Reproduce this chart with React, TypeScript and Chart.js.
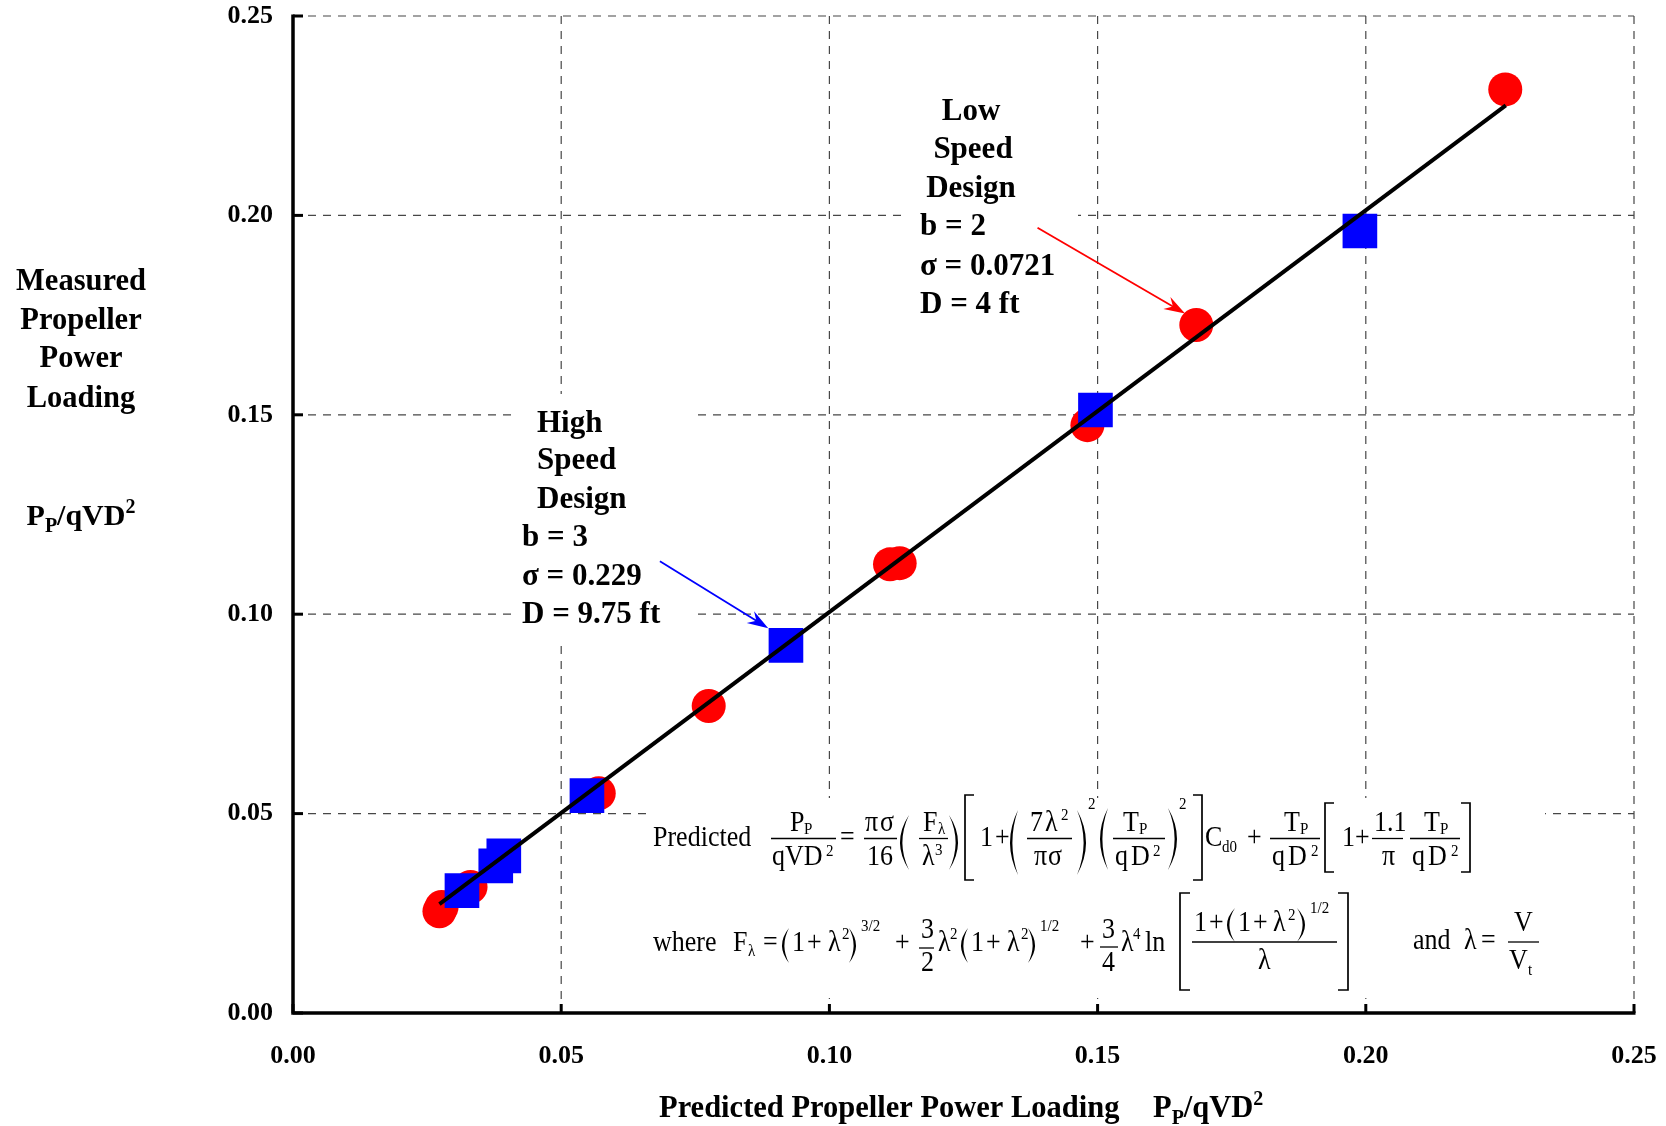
import { useEffect, useRef } from 'react';
import { Chart, registerables } from 'chart.js';

Chart.register(...registerables);

// ---------------- data ----------------
const redX = [0.0273, 0.0277, 0.0331, 0.057, 0.0775, 0.1113, 0.1131, 0.1481, 0.1684, 0.226];
const redY = [0.0255, 0.0266, 0.0316, 0.0551, 0.077, 0.1125, 0.1128, 0.1474, 0.1725, 0.2316];
const blueX = [0.0315, 0.0378, 0.0393, 0.0548, 0.0919, 0.1496, 0.1989];
const blueY = [0.0307, 0.0369, 0.0394, 0.0545, 0.0922, 0.1512, 0.1961];
const fitX = [0.0273, 0.2261];
const fitY = [0.0273, 0.2276];
const axisMin = 0;
const axisMax = 0.25;
const axisStep = 0.05;
const gridValues = [0.05, 0.1, 0.15, 0.2, 0.25];
const tickValues = [0, 0.05, 0.1, 0.15, 0.2, 0.25];

const yTitleLines = ['Measured', 'Propeller', 'Power', 'Loading'];
const xTitleText = 'Predicted Propeller Power Loading';
const lowSpeedHead = ['Low', 'Speed', 'Design'];
const lowSpeedSpec = ['b = 2', 'σ = 0.0721', 'D = 4 ft'];
const highSpeedHead = ['High', 'Speed', 'Design'];
const highSpeedSpec = ['b = 3', 'σ = 0.229', 'D = 9.75 ft'];
// arrow endpoints in data units [x0, y0, x1, y1]
const blueArrow = [0.0684, 0.1133, 0.0886, 0.0965];
const redArrow = [0.1388, 0.1969, 0.1663, 0.1754];

const SERIF = '"Liberation Serif", "Times New Roman", serif';
const BOLD = (s: number) => `bold ${s}px ${SERIF}`;

const toPts = (xs: number[], ys: number[]) => xs.map((x, i) => ({ x, y: ys[i] }));

function drawArrow(ctx: CanvasRenderingContext2D, x0: number, y0: number, x1: number, y1: number, color: string) {
  const dx = x1 - x0, dy = y1 - y0;
  const L = Math.hypot(dx, dy);
  const ux = dx / L, uy = dy / L, px = -uy, py = ux;
  ctx.save();
  ctx.strokeStyle = color;
  ctx.lineWidth = 1.8;
  ctx.beginPath();
  ctx.moveTo(x0, y0);
  ctx.lineTo(x1 - ux * 12, y1 - uy * 12);
  ctx.stroke();
  ctx.fillStyle = color;
  ctx.beginPath();
  ctx.moveTo(x1, y1);
  ctx.lineTo(x1 - ux * 21 + px * 7, y1 - uy * 21 + py * 7);
  ctx.lineTo(x1 - ux * 14, y1 - uy * 14);
  ctx.lineTo(x1 - ux * 21 - px * 7, y1 - uy * 21 - py * 7);
  ctx.closePath();
  ctx.fill();
  ctx.restore();
}

function drawPPqVD(ctx: CanvasRenderingContext2D, x: number, y: number, size: number, center: boolean) {
  const small = Math.round(size * 0.65);
  const parts: [string, number, number][] = [
    ['P', size, 0],
    ['P', small, 7],
    ['/qVD', size, 0],
    ['2', small, -12],
  ];
  let w = 0;
  for (const [s, sz] of parts) {
    ctx.font = BOLD(sz);
    w += ctx.measureText(s).width;
  }
  let cx = center ? x - w / 2 : x;
  for (const [s, sz, dy] of parts) {
    ctx.font = BOLD(sz);
    ctx.fillText(s, cx, y + dy);
    cx += ctx.measureText(s).width;
  }
}

function drawFormula(ctx: CanvasRenderingContext2D) {
  const FS = 26;
  const SS = 15;
  const STRETCH = 1.15;
  const T = (s: string, x: number, y: number, size = FS) => {
    ctx.save();
    ctx.font = `${size}px ${SERIF}`;
    ctx.translate(x, y);
    ctx.scale(1, STRETCH);
    ctx.fillText(s, 0, 0);
    ctx.restore();
  };
  const S = (s: string, x: number, y: number) => T(s, x, y, SS);
  const bar = (x0: number, x1: number, y: number) => {
    ctx.save();
    ctx.lineWidth = 1.3;
    ctx.beginPath();
    ctx.moveTo(x0, y);
    ctx.lineTo(x1, y);
    ctx.stroke();
    ctx.restore();
  };
  const paren = (x0: number, x1: number, y0: number, y1: number, left: boolean) => {
    const mid = (y0 + y1) / 2;
    const th = 2.4;
    ctx.beginPath();
    if (left) {
      const c = 2 * x0 - x1;
      ctx.moveTo(x1, y0);
      ctx.quadraticCurveTo(c, mid, x1, y1);
      ctx.quadraticCurveTo(c + th * 2, mid, x1, y0);
    } else {
      const c = 2 * x1 - x0;
      ctx.moveTo(x0, y0);
      ctx.quadraticCurveTo(c, mid, x0, y1);
      ctx.quadraticCurveTo(c - th * 2, mid, x0, y0);
    }
    ctx.fill();
  };
  const bracket = (x0: number, x1: number, y0: number, y1: number, left: boolean) => {
    ctx.save();
    ctx.lineWidth = 1.7;
    const xv = left ? x0 : x1;
    const xe = left ? x1 : x0;
    ctx.beginPath();
    ctx.moveTo(xe, y0);
    ctx.lineTo(xv, y0);
    ctx.lineTo(xv, y1);
    ctx.lineTo(xe, y1);
    ctx.stroke();
    ctx.restore();
  };

  ctx.save();
  ctx.fillStyle = '#000';
  ctx.strokeStyle = '#000';
  ctx.textAlign = 'left';
  ctx.textBaseline = 'alphabetic';

  // ---- line 1 ----
  const L1 = 846, N1 = 831, D1 = 865, B1 = 838.5;
  T('Predicted', 653, L1);
  T('P', 790, N1); S('P', 804, N1 + 3); bar(771, 836, B1); T('qVD', 772, D1); S('2', 826, D1 - 9);
  T('=', 840, L1);
  T('π', 865, N1); T('σ', 880, N1); bar(864, 897, B1); T('16', 867, D1);
  paren(900, 909, 815, 870, true);
  T('F', 923, N1); S('λ', 938, N1 + 3); bar(919, 948, B1); T('λ', 922, D1); S('3', 935, D1 - 10);
  paren(949, 958, 815, 870, false);
  bracket(965, 974, 795, 880, true);
  T('1', 980, L1); T('+', 995, L1);
  paren(1010, 1018, 810, 875, true);
  T('7', 1030, N1); T('λ', 1045, N1); S('2', 1061, N1 - 11); bar(1027, 1072, B1); T('π', 1034, D1); T('σ', 1048, D1);
  paren(1077, 1086, 810, 875, false); S('2', 1088, 809);
  paren(1100, 1108, 808, 870, true);
  T('T', 1123, N1); S('P', 1139, N1 + 3); bar(1113, 1165, B1); T('q', 1115, D1); T('D', 1131, D1); S('2', 1153, D1 - 9);
  paren(1168, 1177, 808, 870, false); S('2', 1179, 809);
  bracket(1193, 1202, 795, 880, false);
  T('C', 1205, L1); S('d0', 1222, L1 + 6);
  T('+', 1247, L1);
  T('T', 1284, N1); S('P', 1300, N1 + 3); bar(1270, 1320, B1); T('q', 1272, D1); T('D', 1288, D1); S('2', 1311, D1 - 9);
  bracket(1325, 1334, 803, 872, true);
  T('1', 1342, L1); T('+', 1355, L1);
  T('1.1', 1374, N1); bar(1372, 1403, B1); T('π', 1382, D1);
  T('T', 1424, N1); S('P', 1440, N1 + 3); bar(1410, 1460, B1); T('q', 1412, D1); T('D', 1428, D1); S('2', 1451, D1 - 9);
  bracket(1461, 1470, 803, 872, false);

  // ---- line 2 ----
  const L2 = 951;
  T('where', 653, L2);
  T('F', 733, L2); S('λ', 748, L2 + 5);
  T('=', 763, L2);
  paren(782, 789, 928, 963, true);
  T('1', 792, L2); T('+', 807, L2); T('λ', 828, L2); S('2', 842, L2 - 12);
  paren(849, 856, 928, 963, false);
  S('3/2', 861, 931);
  T('+', 895, L2);
  T('3', 921, 938); bar(919, 934, 948); T('2', 921, 971);
  T('λ', 938, L2); S('2', 950, L2 - 12);
  paren(961, 968, 928, 963, true);
  T('1', 971, L2); T('+', 986, L2); T('λ', 1007, L2); S('2', 1021, L2 - 12);
  paren(1028, 1035, 928, 963, false);
  S('1/2', 1040, 931);
  T('+', 1080, L2);
  T('3', 1102, 938); bar(1100, 1118, 947); T('4', 1102, 971);
  T('λ', 1121, L2); S('4', 1133, L2 - 12);
  T('ln', 1145, L2);
  bracket(1180, 1190, 893, 990, true);
  T('1', 1194, 931); T('+', 1209, 931);
  paren(1227, 1235, 908, 942, true);
  T('1', 1238, 931); T('+', 1253, 931); T('λ', 1273, 931); S('2', 1288, 920);
  paren(1297, 1305, 908, 942, false);
  S('1/2', 1310, 913);
  bar(1192, 1337, 942);
  T('λ', 1258, 969);
  bracket(1338, 1348, 893, 990, false);
  T('and', 1413, 949);
  T('λ', 1464, 949); T('=', 1481, 949);
  T('V', 1514, 931); bar(1508, 1539, 942); T('V', 1509, 969); S('t', 1528, 975);
  ctx.restore();
}

const figurePlugin = {
  id: 'figure',
  beforeDatasetsDraw(chart: any) {
    const { ctx, chartArea: a } = chart;
    const x = chart.scales.x;
    const y = chart.scales.y;
    ctx.save();
    // dashed grid
    ctx.strokeStyle = '#474747';
    ctx.lineWidth = 1.2;
    ctx.setLineDash([8, 7]);
    for (const v of gridValues) {
      const px = x.getPixelForValue(v);
      ctx.beginPath();
      ctx.moveTo(px, a.top);
      ctx.lineTo(px, a.bottom);
      ctx.stroke();
      const py = y.getPixelForValue(v);
      ctx.beginPath();
      ctx.moveTo(a.left, py);
      ctx.lineTo(a.right, py);
      ctx.stroke();
    }
    ctx.setLineDash([]);
    // white label backgrounds
    ctx.fillStyle = '#ffffff';
    ctx.fillRect(514, 394, 180, 252);
    ctx.fillRect(908, 88, 170, 230);
    ctx.fillRect(651, 798, 894, 200);
    // axes
    ctx.strokeStyle = '#000';
    ctx.lineWidth = 3.5;
    ctx.beginPath();
    ctx.moveTo(a.left, a.top - 1.5);
    ctx.lineTo(a.left, a.bottom);
    ctx.lineTo(a.right + 1.5, a.bottom);
    ctx.stroke();
    ctx.lineWidth = 3;
    for (const v of tickValues) {
      const py = y.getPixelForValue(v);
      ctx.beginPath();
      ctx.moveTo(a.left, py);
      ctx.lineTo(a.left + 10, py);
      ctx.stroke();
      const px = x.getPixelForValue(v);
      ctx.beginPath();
      ctx.moveTo(px, a.bottom);
      ctx.lineTo(px, a.bottom - 9);
      ctx.stroke();
    }
    ctx.restore();
  },
  afterDatasetsDraw(chart: any) {
    const { ctx } = chart;
    const x = chart.scales.x;
    const y = chart.scales.y;
    ctx.save();
    ctx.fillStyle = '#000';
    ctx.textBaseline = 'alphabetic';

    // y-axis title
    ctx.textAlign = 'center';
    ctx.font = BOLD(30.5);
    const yBase = [290, 329, 367, 407];
    yTitleLines.forEach((s, i) => ctx.fillText(s, 81, yBase[i]));
    ctx.textAlign = 'left';
    drawPPqVD(ctx, 81, 525, 30, true);

    // x-axis title
    ctx.font = BOLD(30.5);
    ctx.fillText(xTitleText, 659, 1117);
    drawPPqVD(ctx, 1153, 1117, 30.5, false);

    // Low speed annotation
    ctx.font = BOLD(31);
    ctx.textAlign = 'center';
    const lowHeadBase = [120, 158, 197];
    const lowHeadX = [971, 973, 971];
    lowSpeedHead.forEach((s, i) => ctx.fillText(s, lowHeadX[i], lowHeadBase[i]));
    ctx.textAlign = 'left';
    const lowSpecBase = [235, 275, 313];
    lowSpeedSpec.forEach((s, i) => ctx.fillText(s, 920, lowSpecBase[i]));

    // High speed annotation
    const highHeadBase = [432, 469, 508];
    highSpeedHead.forEach((s, i) => ctx.fillText(s, 537, highHeadBase[i]));
    const highSpecBase = [546, 585, 623];
    highSpeedSpec.forEach((s, i) => ctx.fillText(s, 522, highSpecBase[i]));

    // arrows
    drawArrow(ctx, x.getPixelForValue(blueArrow[0]), y.getPixelForValue(blueArrow[1]),
      x.getPixelForValue(blueArrow[2]), y.getPixelForValue(blueArrow[3]), '#0000ff');
    drawArrow(ctx, x.getPixelForValue(redArrow[0]), y.getPixelForValue(redArrow[1]),
      x.getPixelForValue(redArrow[2]), y.getPixelForValue(redArrow[3]), '#ff0000');

    drawFormula(ctx);
    ctx.restore();
  },
};

const zeroPad = (s: any) => {
  s.paddingTop = 0;
  s.paddingBottom = 0;
  s.paddingLeft = 0;
  s.paddingRight = 0;
};

export default function App() {
  const ref = useRef<HTMLCanvasElement>(null);
  useEffect(() => {
    const tickFont = { family: SERIF, weight: 'bold' as const, size: 26 };
    const chart = new Chart(ref.current!, {
      type: 'scatter',
      data: {
        datasets: [
          {
            type: 'line',
            label: 'fit',
            data: toPts(fitX, fitY),
            borderColor: '#000',
            borderWidth: 4,
            pointRadius: 0,
            showLine: true,
            fill: false,
            order: 0,
          } as any,
          {
            label: 'High Speed Design',
            data: toPts(blueX, blueY),
            pointStyle: 'rect',
            pointRadius: 24.5,
            backgroundColor: '#0000ff',
            borderWidth: 0,
            order: 1,
          },
          {
            label: 'Low Speed Design',
            data: toPts(redX, redY),
            pointStyle: 'circle',
            pointRadius: 17,
            backgroundColor: '#ff0000',
            borderWidth: 0,
            order: 2,
          },
        ],
      },
      options: {
        responsive: false,
        animation: false,
        events: [],
        layout: { autoPadding: false, padding: { top: 16, right: 32, left: 0, bottom: 0 } },
        plugins: { legend: { display: false }, tooltip: { enabled: false } },
        scales: {
          x: {
            type: 'linear',
            min: axisMin,
            max: axisMax,
            grid: { display: false, drawTicks: false, tickLength: 0 },
            border: { display: false },
            ticks: {
              stepSize: axisStep,
              autoSkip: false,
              maxRotation: 0,
              padding: 28,
              color: '#000',
              font: tickFont,
              callback: (v: any) => Number(v).toFixed(2),
            },
            afterFit: (s: any) => { s.height = 113; zeroPad(s); },
          },
          y: {
            type: 'linear',
            min: axisMin,
            max: axisMax,
            grid: { display: false, drawTicks: false, tickLength: 0 },
            border: { display: false },
            ticks: {
              stepSize: axisStep,
              autoSkip: false,
              padding: 20,
              color: '#000',
              font: tickFont,
              callback: (v: any) => Number(v).toFixed(2),
            },
            afterFit: (s: any) => { s.width = 293; zeroPad(s); },
          },
        },
      },
      plugins: [figurePlugin],
    });
    return () => chart.destroy();
  }, []);
  return (
    <div style={{ position: 'absolute', left: 0, top: 0, width: 1666, height: 1126, background: '#fff' }}>
      <canvas ref={ref} width={1666} height={1126} style={{ display: 'block', width: 1666, height: 1126 }} />
    </div>
  );
}
